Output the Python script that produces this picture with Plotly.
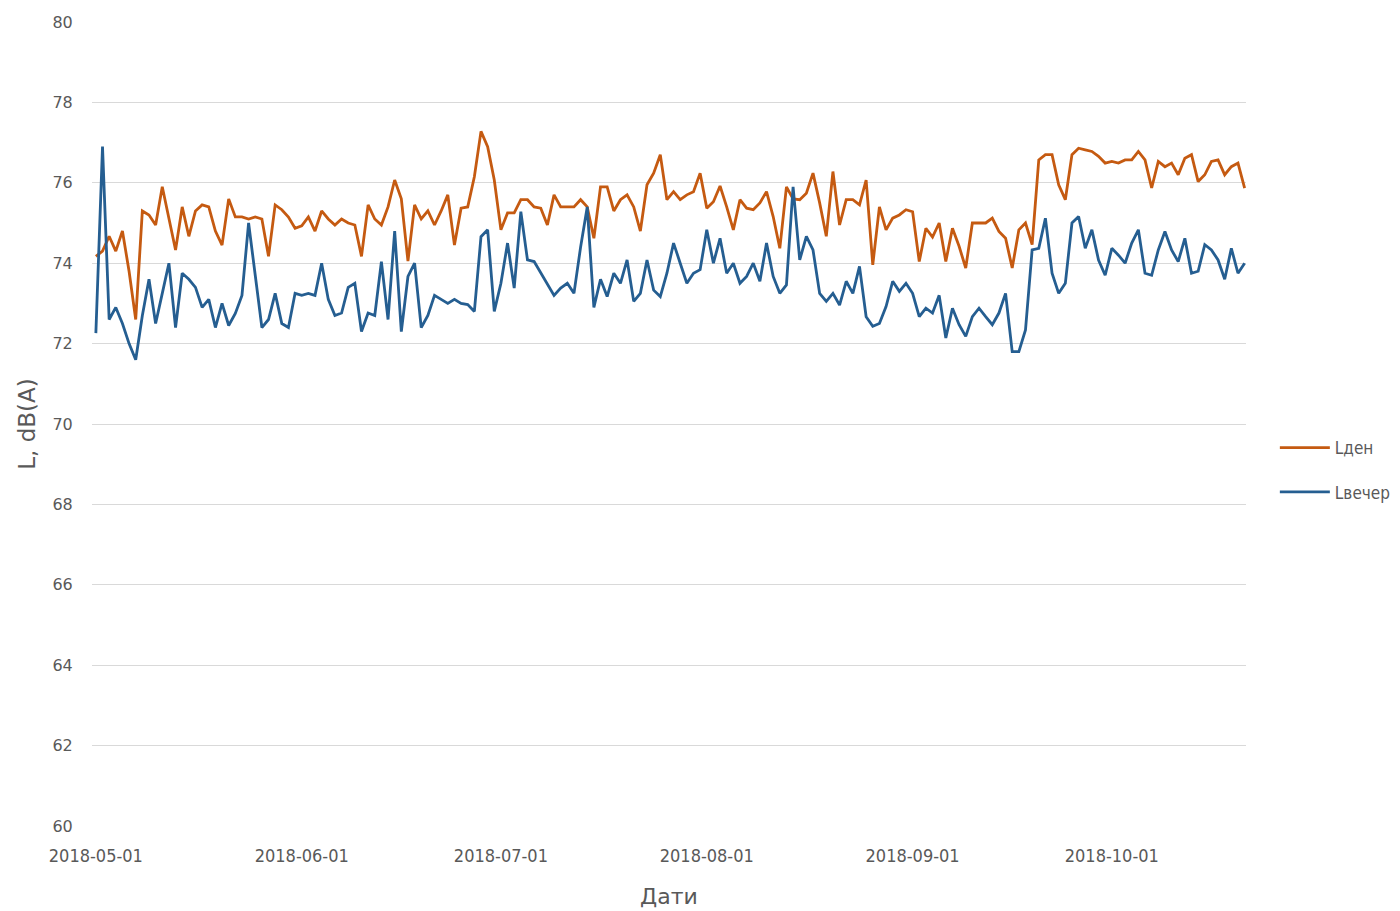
import pandas as pd
import plotly.graph_objects as go

start_date = "2018-05-01"

l_den = [
    74.17, 74.3, 74.67, 74.3, 74.8, 73.8, 72.6, 75.3, 75.2, 74.95,
    75.9, 75.15, 74.33, 75.4, 74.67, 75.3, 75.45, 75.4, 74.8, 74.45,
    75.6, 75.15, 75.15, 75.1, 75.15, 75.1, 74.17, 75.45, 75.33, 75.15,
    74.87, 74.93, 75.15, 74.8, 75.3, 75.1, 74.95, 75.1, 75.0, 74.95,
    74.17, 75.45, 75.1, 74.95, 75.4, 76.07, 75.6, 74.05, 75.45, 75.1,
    75.3, 74.95, 75.3, 75.7, 74.45, 75.37, 75.4, 76.15, 77.28, 76.9,
    76.07, 74.83, 75.25, 75.25, 75.58, 75.58, 75.4, 75.37, 74.95, 75.7,
    75.4, 75.4, 75.4, 75.58, 75.4, 74.62, 75.9, 75.9, 75.3, 75.58,
    75.7, 75.4, 74.8, 75.95, 76.24, 76.7, 75.58, 75.78, 75.58, 75.7,
    75.78, 76.24, 75.37, 75.53, 75.92, 75.4, 74.83, 75.58, 75.37, 75.33,
    75.5, 75.78, 75.16, 74.37, 75.9, 75.6, 75.58, 75.74, 76.24, 75.5,
    74.67, 76.28, 74.95, 75.58, 75.58, 75.45, 76.07, 73.96, 75.4, 74.83,
    75.12, 75.2, 75.33, 75.28, 74.04, 74.87, 74.65, 75.0, 74.04, 74.87,
    74.42, 73.88, 75.0, 75.0, 75.0, 75.12, 74.79, 74.62, 73.88, 74.83,
    75.0, 74.46, 76.57, 76.7, 76.7, 75.95, 75.58, 76.7, 76.86, 76.82,
    76.78, 76.66, 76.49, 76.53, 76.49, 76.57, 76.57, 76.78, 76.57, 75.87,
    76.53, 76.4, 76.49, 76.2, 76.61, 76.7, 76.03, 76.2, 76.53, 76.57,
    76.2, 76.4, 76.49, 75.87,
]

l_vecher = [
    72.26, 76.9, 72.6, 72.9, 72.5, 72.0, 71.6, 72.7, 73.6, 72.5,
    73.25, 74.0, 72.4, 73.75, 73.6, 73.4, 72.9, 73.1, 72.4, 73.0,
    72.45, 72.75, 73.2, 75.0, 73.7, 72.4, 72.6, 73.25, 72.5, 72.4,
    73.25, 73.2, 73.25, 73.2, 74.0, 73.1, 72.7, 72.76, 73.4, 73.5,
    72.3, 72.76, 72.7, 74.04, 72.6, 74.8, 72.3, 73.67, 74.0, 72.4,
    72.7, 73.2, 73.1, 73.0, 73.1, 73.0, 72.97, 72.8, 74.66, 74.83,
    72.8, 73.5, 74.5, 73.38, 75.28, 74.08, 74.04, 73.75, 73.46, 73.2,
    73.38, 73.5, 73.25, 74.4, 75.4, 72.9, 73.6, 73.17, 73.75, 73.5,
    74.08, 73.05, 73.25, 74.08, 73.33, 73.17, 73.75, 74.5, 74.0, 73.5,
    73.75, 73.84, 74.83, 74.0, 74.62, 73.75, 74.0, 73.5, 73.67, 74.0,
    73.55, 74.5, 73.67, 73.25, 73.46, 75.9, 74.08, 74.67, 74.33, 73.25,
    73.05, 73.25, 72.96, 73.55, 73.25, 73.92, 72.67, 72.43, 72.5, 72.92,
    73.55, 73.3, 73.5, 73.25, 72.67, 72.88, 72.76, 73.2, 72.14, 72.88,
    72.47, 72.18, 72.67, 72.88, 72.67, 72.47, 72.76, 73.25, 71.8, 71.8,
    72.34, 74.33, 74.37, 75.12, 73.75, 73.25, 73.5, 75.0, 75.16, 74.37,
    74.83, 74.08, 73.7, 74.37, 74.2, 74.0, 74.5, 74.83, 73.75, 73.7,
    74.33, 74.79, 74.33, 74.04, 74.62, 73.75, 73.8, 74.46, 74.33, 74.08,
    73.6, 74.37, 73.75, 74.0,
]

series_names = ["L\u0434\u0435\u043d", "L\u0432\u0435\u0447\u0435\u0440"]
tick_dates = ["2018-05-01", "2018-06-01", "2018-07-01", "2018-08-01", "2018-09-01", "2018-10-01"]
y_ticks = [60, 62, 64, 66, 68, 70, 72, 74, 76, 78, 80]

dates = pd.date_range(start_date, periods=len(l_den), freq="D")

GREY = "#595959"
COND = "DejaVu Sans Condensed, Liberation Sans Narrow, Roboto, sans-serif"
WIDE = "DejaVu Sans, Verdana, sans-serif"

fig = go.Figure()
fig.add_trace(go.Scatter(x=dates, y=l_den, mode="lines", name=series_names[0],
                         line=dict(color="#C55A11", width=2.8), legend="legend"))
fig.add_trace(go.Scatter(x=dates, y=l_vecher, mode="lines", name=series_names[1],
                         line=dict(color="#255E91", width=2.8), legend="legend2"))

legend_common = dict(xanchor="left", yanchor="middle", itemwidth=50,
                     font=dict(family=COND, size=17, color=GREY),
                     bgcolor="rgba(0,0,0,0)")

fig.update_layout(
    width=1392, height=903,
    margin=dict(l=84, r=154, t=14, b=85, autoexpand=False),
    paper_bgcolor="white", plot_bgcolor="white",
    font=dict(family=WIDE, color=GREY, size=15),
    legend=dict(x=1.025, y=0.47, **legend_common),
    legend2=dict(x=1.025, y=0.415, **legend_common),
    showlegend=True,
)
fig.update_xaxes(
    range=["2018-04-30 10:00", "2018-10-21 05:00"],
    tickvals=tick_dates, ticktext=tick_dates,
    showgrid=False, zeroline=False, showline=False,
    ticks="outside", ticklen=13, tickcolor="rgba(0,0,0,0)",
    tickfont=dict(family=COND, size=18, color=GREY),
    title=dict(text="\u0414\u0430\u0442\u0438", font=dict(family=WIDE, size=22, color=GREY), standoff=24),
)
fig.update_yaxes(
    range=[60, 80], tickvals=y_ticks,
    showgrid=True, gridcolor="#D9D9D9", gridwidth=1.3,
    zeroline=False, showline=False,
    ticks="outside", ticklen=15, tickcolor="rgba(0,0,0,0)",
    tickfont=dict(family=WIDE, size=16, color=GREY),
    title=dict(text="L, dB(A)", font=dict(family=WIDE, size=23, color=GREY), standoff=10),
)

fig.write_html("out.html")
